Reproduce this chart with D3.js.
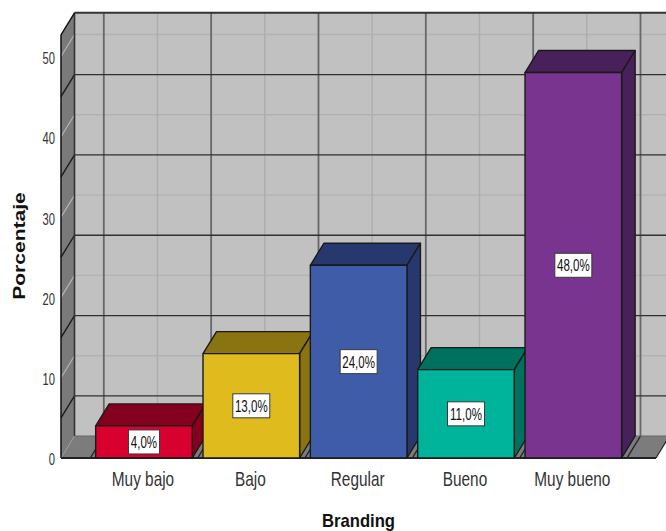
<!DOCTYPE html>
<html lang="es">
<head>
<meta charset="utf-8">
<title>Branding</title>
<script src="https://cdn.jsdelivr.net/npm/d3@7/dist/d3.min.js"></script>
<style>
  html, body { margin: 0; padding: 0; background: #fff; }
  svg { display: block; }
  text { font-family: "Liberation Sans", Arial, sans-serif; }
</style>
</head>
<body>
<svg id="chart" width="666" height="531"></svg>
<script>
// Branding levels and the share of respondents in each one
const categories = ["Muy bajo", "Bajo", "Regular", "Bueno", "Muy bueno"];
const percentages = [4, 13, 24, 11, 48];
const valueLabels = ["4,0%", "13,0%", "24,0%", "11,0%", "48,0%"];
const frontColors = ["#d8002e", "#e0bb1e", "#3f5ca8", "#00b39b", "#78348e"];
const shadeColors = ["#85001f", "#8a7411", "#27386e", "#00705f", "#49215a"];
const axisTicks = [0, 10, 20, 30, 40, 50];
const darkGrid = [5, 15, 25, 35, 45];
const lightGrid = [10, 20, 30, 40, 50];

const width = 666, height = 531;
const svg = d3.select("#chart");

// Extrusion of the 3D box: every back point sits this far from its front point
const depthX = 13.5, depthY = 22;

const y = d3.scaleLinear().domain([0, 50]).range([458, 56.5]);
const x = d3.scaleBand().domain(categories).range([90.3, 627]).paddingInner(0.1).paddingOuter(0.05);

const yMax = 52.7;
const left = 61, right = 656;
const pts = a => a.map(p => p.join(",")).join(" ");
const line = (g, x1, y1, x2, y2, color, w) => g.append("line")
  .attr("x1", x1).attr("y1", y1).attr("x2", x2).attr("y2", y2)
  .attr("stroke", color).attr("stroke-width", w);

// Walls and floor
const box = svg.append("g");
box.append("polygon")
  .attr("points", pts([[left + depthX, y(yMax) - depthY], [right + depthX, y(yMax) - depthY], [right + depthX, y(0) - depthY], [left + depthX, y(0) - depthY]]))
  .attr("fill", "#c1c1c1");
box.append("polygon")
  .attr("points", pts([[left, y(yMax)], [left + depthX, y(yMax) - depthY], [left + depthX, y(0) - depthY], [left, y(0)]]))
  .attr("fill", "#7a7a7a");
box.append("polygon")
  .attr("points", pts([[left, y(0)], [left + depthX, y(0) - depthY], [right + depthX, y(0) - depthY], [right, y(0)]]))
  .attr("fill", "#7c7c7c");

// Light grid: whole tens on the walls and category centres on the back wall
lightGrid.forEach(v => {
  line(box, left + depthX, y(v) - depthY, right + depthX, y(v) - depthY, "#b2b2b2", 1.4);
  line(box, left, y(v), left + depthX, y(v) - depthY, "#b4b4b4", 1.2);
});
categories.forEach(c => {
  const cx = x(c) + x.bandwidth() / 2 + depthX;
  line(box, cx, y(yMax) - depthY, cx, y(0) - depthY, "#adadad", 1.4);
});

// Dark grid: category boundaries on wall and floor, odd fives on the walls
const boundaries = categories.map(c => x(c) - x.step() * x.paddingInner() / 2);
boundaries.push(x(categories[4]) + x.step() - x.step() * x.paddingInner() / 2);
boundaries.forEach(b => {
  line(box, b + depthX, y(yMax) - depthY, b + depthX, y(0) - depthY, "#686868", 1.8);
  line(box, b + depthX, y(0) - depthY, b, y(0), "#222", 1.4);
});
darkGrid.forEach(v => {
  line(box, left + depthX, y(v) - depthY, right + depthX, y(v) - depthY, "#303030", 1.3);
  line(box, left, y(v), left + depthX, y(v) - depthY, "#1c1c1c", 1.4);
});

// Box edges
line(box, left + depthX, y(yMax) - depthY, width, y(yMax) - depthY, "#333", 2);
line(box, left + depthX, y(yMax) - depthY, left + depthX, y(0) - depthY, "#333", 1.6);
line(box, left, y(yMax), left + depthX, y(yMax) - depthY, "#111", 1.4);
line(box, left + depthX, y(0) - depthY, right + depthX, y(0) - depthY, "#666", 1.2);
line(box, left, y(0), left + depthX, y(0) - depthY, "#999", 1);
line(box, right, y(0), right + depthX, y(0) - depthY, "#222", 1.2);
line(box, left, y(yMax), left, y(0), "#111", 1.5);
line(box, left, y(0), right, y(0), "#222", 1.8);

// Bars, painted left to right so each one covers the previous side face
const rows = categories.map((c, i) => ({ c, v: percentages[i], front: frontColors[i], shade: shadeColors[i], label: valueLabels[i] }));
const bars = svg.append("g").selectAll("g").data(rows).join("g")
  .attr("stroke", "#1a1a1a").attr("stroke-width", 1.4).attr("stroke-linejoin", "round");
bars.append("polygon").attr("fill", d => d.shade).attr("points", d => {
  const x0 = x(d.c), x1 = x0 + x.bandwidth(), t = y(d.v);
  return pts([[x0, t], [x0 + depthX, t - depthY], [x1 + depthX, t - depthY], [x1, t]]);
});
bars.append("polygon").attr("fill", d => d.shade).attr("points", d => {
  const x1 = x(d.c) + x.bandwidth(), t = y(d.v);
  return pts([[x1, t], [x1 + depthX, t - depthY], [x1 + depthX, y(0) - depthY], [x1, y(0)]]);
});
bars.append("rect").attr("fill", d => d.front)
  .attr("x", d => x(d.c)).attr("y", d => y(d.v))
  .attr("width", x.bandwidth()).attr("height", d => y(0) - y(d.v));

// Value labels in white boxes at the middle of each front face
const tags = svg.append("g").selectAll("g").data(rows).join("g")
  .attr("transform", d => `translate(${x(d.c) + x.bandwidth() / 2},${(y(d.v) + y(0)) / 2})`);
tags.append("rect")
  .attr("x", d => d.v < 10 ? -15.5 : -18.5).attr("y", -12)
  .attr("width", d => d.v < 10 ? 31 : 37).attr("height", 24)
  .attr("fill", "#fff").attr("stroke", "#3a3a3a").attr("stroke-width", 1);
tags.append("text").attr("transform", "scale(0.7,1)").attr("text-anchor", "middle")
  .attr("y", 6).attr("font-size", 16.5).attr("fill", "#111").text(d => d.label);

// Axes: the library supplies the tick labels, the box edges act as domain lines
const yAxis = svg.append("g").attr("transform", `translate(${left},0)`)
  .call(d3.axisLeft(y).tickValues(axisTicks).tickSize(0));
yAxis.select(".domain").remove();
yAxis.selectAll("text").attr("x", 0).attr("dy", "0.36em")
  .attr("transform", "translate(-6,1) scale(0.68,1)")
  .style("font-family", "Liberation Sans").style("font-size", "16.5px").attr("fill", "#333");

const xAxis = svg.append("g").attr("transform", `translate(0,${y(0)})`)
  .call(d3.axisBottom(x).tickSize(0));
xAxis.select(".domain").remove();
xAxis.selectAll("text").attr("y", 0).attr("dy", 0)
  .attr("transform", "translate(-1,28) scale(0.75,1)")
  .style("font-family", "Liberation Sans").style("font-size", "20.5px").attr("fill", "#333");

// Axis titles
svg.append("text").attr("text-anchor", "middle")
  .attr("transform", "translate(358.5,527) scale(0.9,1)")
  .attr("font-size", 18.5).attr("font-weight", "bold").attr("fill", "#111").text("Branding");
svg.append("text").attr("text-anchor", "middle")
  .attr("transform", "translate(25,246) rotate(-90) scale(1.24,1)")
  .attr("font-size", 17).attr("font-weight", "bold").attr("fill", "#111").text("Porcentaje");
</script>
</body>
</html>
